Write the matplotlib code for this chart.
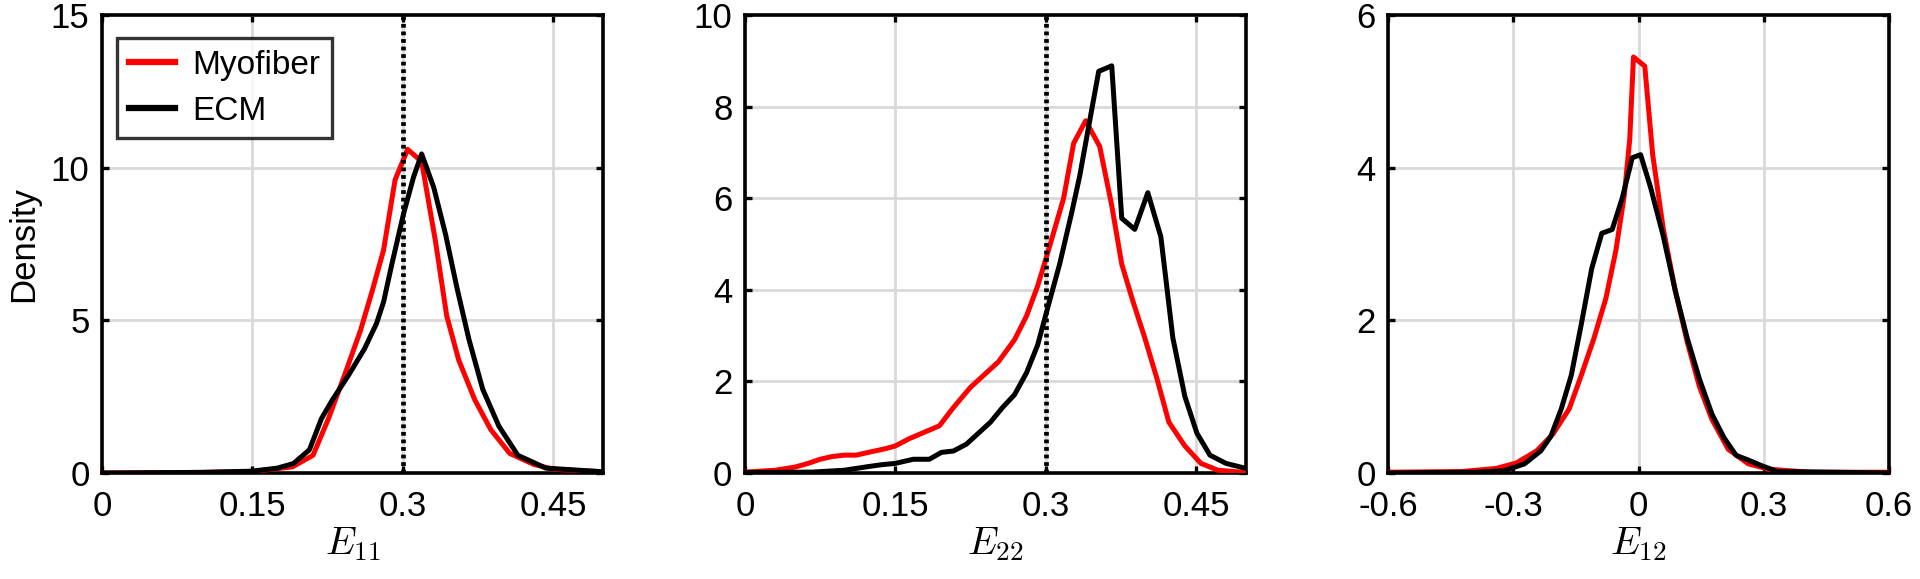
import matplotlib
matplotlib.use("Agg")
import matplotlib.pyplot as plt

plt.rcParams['font.family'] = ['Liberation Sans', 'DejaVu Sans']
plt.rcParams['mathtext.fontset'] = 'cm'

# ---------------- data ----------------
# Panel 1: E11
e11_myo_x = [0.0, 0.10, 0.15, 0.19, 0.2106, 0.226, 0.242, 0.258, 0.27, 0.281, 0.2925, 0.305,
             0.319, 0.333, 0.344, 0.356, 0.372, 0.388, 0.407, 0.431, 0.451, 0.5]
e11_myo_y = [0.0, 0.02, 0.05, 0.2, 0.58, 1.78, 3.2, 4.67, 6.0, 7.3, 9.6, 10.6,
             10.2, 7.55, 5.15, 3.7, 2.4, 1.42, 0.64, 0.28, 0.12, 0.04]
e11_ecm_x = [0.0, 0.10, 0.15, 0.175, 0.191, 0.207, 0.219, 0.23, 0.246, 0.262, 0.274, 0.281,
             0.289, 0.301, 0.311, 0.319, 0.331, 0.343, 0.354, 0.366, 0.38, 0.396, 0.415,
             0.443, 0.5]
e11_ecm_y = [0.0, 0.02, 0.06, 0.16, 0.31, 0.76, 1.78, 2.4, 3.2, 4.07, 4.9, 5.6,
             6.8, 8.5, 9.7, 10.45, 9.36, 7.8, 6.1, 4.4, 2.74, 1.54, 0.58,
             0.16, 0.04]

# Panel 2: E22
e22_myo_x = [0.0, 0.03, 0.05, 0.063, 0.075, 0.087, 0.099, 0.111, 0.123, 0.14, 0.15, 0.164,
             0.18, 0.194, 0.208, 0.225, 0.241, 0.253, 0.269, 0.281, 0.292, 0.302, 0.318,
             0.328, 0.34, 0.354, 0.366, 0.376, 0.387, 0.399, 0.411, 0.423, 0.439, 0.455,
             0.472, 0.5]
e22_myo_y = [0.02, 0.06, 0.13, 0.21, 0.3, 0.36, 0.39, 0.39, 0.45, 0.53, 0.59, 0.75,
             0.9, 1.03, 1.43, 1.87, 2.19, 2.43, 2.91, 3.43, 4.08, 4.8, 6.0,
             7.2, 7.69, 7.13, 5.84, 4.56, 3.76, 2.95, 2.07, 1.11, 0.59, 0.21,
             0.06, 0.01]
e22_ecm_x = [0.0, 0.067, 0.099, 0.123, 0.136, 0.15, 0.168, 0.184, 0.196, 0.208, 0.221, 0.233,
             0.245, 0.257, 0.269, 0.281, 0.292, 0.302, 0.314, 0.326, 0.334, 0.344, 0.353,
             0.366, 0.376, 0.389, 0.402, 0.415, 0.427, 0.439, 0.451, 0.464, 0.48, 0.5]
e22_ecm_y = [0.01, 0.02, 0.06, 0.14, 0.18, 0.21, 0.3, 0.3, 0.45, 0.48, 0.63, 0.87,
             1.11, 1.43, 1.71, 2.19, 2.79, 3.6, 4.56, 5.68, 6.48, 7.69, 8.77,
             8.89, 5.56, 5.32, 6.12, 5.16, 2.95, 1.67, 0.87, 0.39, 0.21, 0.1]

# Panel 3: E12
e12_myo_x = [-0.6, -0.42, -0.341, -0.293, -0.244, -0.205, -0.166, -0.137, -0.107, -0.078,
             -0.054, -0.034, -0.021, -0.012, 0.015, 0.034, 0.059, 0.088, 0.117, 0.146,
             0.176, 0.215, 0.263, 0.312, 0.41, 0.6]
e12_myo_y = [0.01, 0.02, 0.06, 0.13, 0.29, 0.51, 0.84, 1.28, 1.76, 2.29,
             2.92, 3.64, 4.37, 5.45, 5.33, 4.17, 3.21, 2.39, 1.71, 1.13,
             0.70, 0.31, 0.12, 0.05, 0.01, 0.01]
e12_ecm_x = [-0.6, -0.39, -0.322, -0.273, -0.234, -0.21, -0.185, -0.161, -0.137, -0.112,
             -0.088, -0.063, -0.039, -0.015, 0.005, 0.029, 0.059, 0.088, 0.117, 0.146,
             0.176, 0.205, 0.234, 0.263, 0.293, 0.332, 0.6]
e12_ecm_y = [0.0, 0.01, 0.03, 0.12, 0.29, 0.48, 0.84, 1.28, 1.95, 2.68,
             3.14, 3.19, 3.6, 4.13, 4.17, 3.74, 3.11, 2.39, 1.76, 1.23,
             0.77, 0.46, 0.23, 0.17, 0.1, 0.02, 0.0]

series_labels = ["Myofiber", "ECM"]
x_labels = [r"$E_{11}$", r"$E_{22}$", r"$E_{12}$"]
xlims = [(0, 0.5), (0, 0.5), (-0.6, 0.6)]
ylims = [(0, 15), (0, 10), (0, 6)]
xticks = [[0, 0.15, 0.3, 0.45], [0, 0.15, 0.3, 0.45], [-0.6, -0.3, 0, 0.3, 0.6]]
xticklabels = [["0", "0.15", "0.3", "0.45"], ["0", "0.15", "0.3", "0.45"],
               ["-0.6", "-0.3", "0", "0.3", "0.6"]]
yticks = [[0, 5, 10, 15], [0, 2, 4, 6, 8, 10], [0, 2, 4, 6]]
ref_line = [0.3, 0.3, None]

panels = [(e11_myo_x, e11_myo_y, e11_ecm_x, e11_ecm_y),
          (e22_myo_x, e22_myo_y, e22_ecm_x, e22_ecm_y),
          (e12_myo_x, e12_myo_y, e12_ecm_x, e12_ecm_y)]

# ---------------- figure ----------------
W, H = 1920, 579
fig = plt.figure(figsize=(W / 100, H / 100), dpi=100)
lefts = [102, 745, 1388]
ax_w, ax_top, ax_bot = 501, 15, 473

for i, (mx, my, ex, ey) in enumerate(panels):
    ax = fig.add_axes([lefts[i] / W, (H - ax_bot) / H, ax_w / W, (ax_bot - ax_top) / H])
    ax.grid(True, color='#d9d9d9', linewidth=2.0, zorder=0)
    ax.set_axisbelow(True)
    l1, = ax.plot(mx, my, color='#ff0000', linewidth=3.6, zorder=3, label=series_labels[0])
    l2, = ax.plot(ex, ey, color='black', linewidth=3.6, zorder=4, label=series_labels[1])
    if ref_line[i] is not None:
        ax.axvline(ref_line[i], color='black', linestyle=(0, (0.8, 0.8)), linewidth=3.4, zorder=5)
    ax.set_xlim(*xlims[i])
    ax.set_ylim(*ylims[i])
    ax.set_xticks(xticks[i])
    ax.set_xticklabels(xticklabels[i])
    ax.set_yticks(yticks[i])
    ax.tick_params(direction='in', length=5, width=2.4, top=True, right=True,
                   labelsize=25, pad=9, colors='black')
    ax.tick_params(axis='x', pad=12)
    for s in ax.spines.values():
        s.set_linewidth(2.6)
    ax.set_xlabel(x_labels[i], fontsize=28, labelpad=2)
    if i == 0:
        ax.set_ylabel("Density", fontsize=25, labelpad=8)
        leg = ax.legend(handles=[l1, l2], loc='upper left', fontsize=24,
                        bbox_to_anchor=(0.03, 0.95), frameon=True, fancybox=False,
                        handlelength=1.4, handletextpad=0.5, borderpad=0.35,
                        labelspacing=0.45, borderaxespad=0.0)
        leg.get_frame().set_edgecolor('black')
        leg.get_frame().set_linewidth(2.4)
        for ln in leg.get_lines():
            ln.set_linewidth(4.5)

fig.savefig("out.png", dpi=100, facecolor='white')
